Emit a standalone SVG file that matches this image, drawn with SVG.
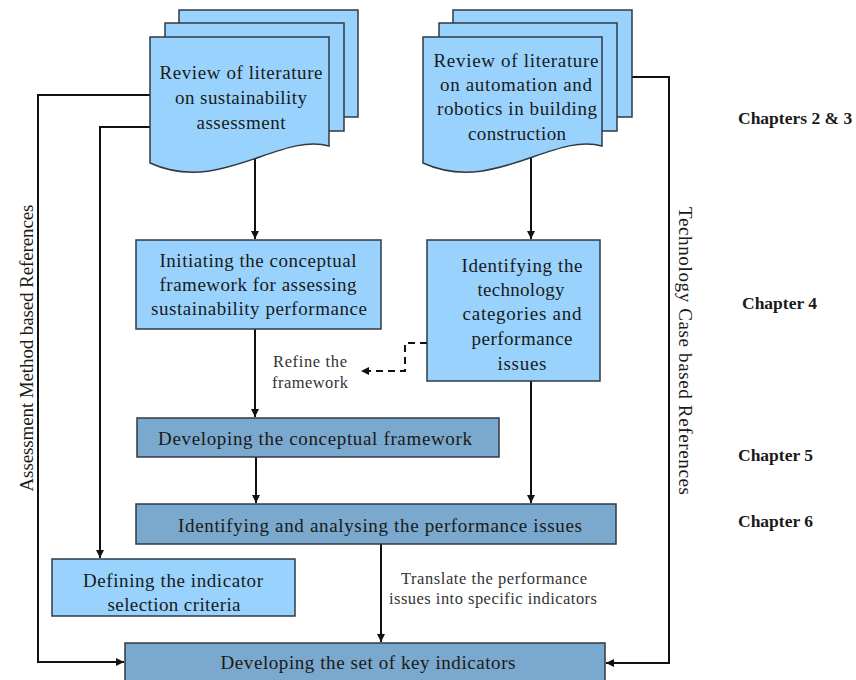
<svg xmlns="http://www.w3.org/2000/svg" width="856" height="680" viewBox="0 0 856 680">
<defs>
<style>
.lb{fill:#99d3fd;stroke:#2f3a44;stroke-width:1.5}
.db{fill:#7ba8cd;stroke:#2f3a44;stroke-width:1.5}
.t{font-family:"Liberation Serif","Times New Roman",serif;font-size:19px;fill:#1a1a1a;text-anchor:middle;dominant-baseline:central}
.s{font-size:16.5px;fill:#333}
.ch{font-family:"Liberation Serif","Times New Roman",serif;font-size:17.5px;font-weight:bold;fill:#1a1a1a;dominant-baseline:central}
.c{fill:none;stroke:#111;stroke-width:2}
.d{stroke-dasharray:7,5}
</style>
<marker id="ah" viewBox="0 0 10 10" refX="10" refY="5" markerWidth="8" markerHeight="8" markerUnits="userSpaceOnUse" orient="auto">
<path d="M0,0 L10,5 L0,10 z" fill="#111"/>
</marker>
</defs>
<rect width="856" height="680" fill="#fff"/>

<g id="connectors">
<path class="c" d="M255,156 V239" marker-end="url(#ah)"/>
<path class="c" d="M531,156 V239" marker-end="url(#ah)"/>
<path class="c" d="M150,95 H38 V662 H124" marker-end="url(#ah)"/>
<path class="c" d="M150,127 H100 V558" marker-end="url(#ah)"/>
<path class="c" d="M632,77 H669 V663 H606" marker-end="url(#ah)"/>
<path class="c" d="M255,329 V417" marker-end="url(#ah)"/>
<path class="c" d="M256,457 V503" marker-end="url(#ah)"/>
<path class="c" d="M531,381 V503" marker-end="url(#ah)"/>
<path class="c" d="M381,544 V642" marker-end="url(#ah)"/>
<path class="c d" d="M427,343 H405 V371 H361" marker-end="url(#ah)"/>
</g>

<g id="doc-sustainability">
<rect class="lb" x="179" y="10" width="179" height="107"/>
<rect class="lb" x="165" y="23" width="179" height="108"/>
<path class="lb" d="M150,37 H329 V146 C280,132 220,195 150,163 Z"/>
<text class="t" x="241" y="72" textLength="163" lengthAdjust="spacing">Review of literature</text>
<text class="t" x="241" y="97" textLength="132" lengthAdjust="spacing">on sustainability</text>
<text class="t" x="241" y="122" textLength="89" lengthAdjust="spacing">assessment</text>
</g>

<g id="doc-automation">
<rect class="lb" x="453" y="10" width="179" height="107"/>
<rect class="lb" x="439" y="23" width="178" height="108"/>
<path class="lb" d="M423,37 H602 V146 C553,132 493,195 423,163 Z"/>
<text class="t" x="516" y="60" textLength="165" lengthAdjust="spacing">Review of literature</text>
<text class="t" x="516" y="84" textLength="152" lengthAdjust="spacing">on automation and</text>
<text class="t" x="517" y="108" textLength="160" lengthAdjust="spacing">robotics in building</text>
<text class="t" x="517" y="133" textLength="98" lengthAdjust="spacing">construction</text>
</g>

<g id="initiating">
<rect class="lb" x="136" y="240" width="245" height="89"/>
<text class="t" x="258" y="260" textLength="197" lengthAdjust="spacing">Initiating the conceptual</text>
<text class="t" x="258" y="284" textLength="197" lengthAdjust="spacing">framework for assessing</text>
<text class="t" x="259" y="308" textLength="216" lengthAdjust="spacing">sustainability performance</text>
</g>

<g id="identifying-tech">
<rect class="lb" x="427" y="240" width="173" height="141"/>
<text class="t" x="522" y="265" textLength="121" lengthAdjust="spacing">Identifying the</text>
<text class="t" x="521" y="289" textLength="87" lengthAdjust="spacing">technology</text>
<text class="t" x="522" y="313" textLength="119" lengthAdjust="spacing">categories and</text>
<text class="t" x="522" y="338" textLength="101" lengthAdjust="spacing">performance</text>
<text class="t" x="522" y="363" textLength="49" lengthAdjust="spacing">issues</text>
</g>

<g id="refine-label">
<text class="t s" x="310" y="361" textLength="74" lengthAdjust="spacing">Refine the</text>
<text class="t s" x="310" y="382" textLength="76" lengthAdjust="spacing">framework</text>
</g>

<g id="developing-framework">
<rect class="db" x="137" y="418" width="362" height="39"/>
<text class="t" x="315" y="438" textLength="314" lengthAdjust="spacing">Developing the conceptual framework</text>
</g>

<g id="analysing">
<rect class="db" x="136" y="504" width="480" height="40"/>
<text class="t" x="380" y="525" textLength="404" lengthAdjust="spacing">Identifying and analysing the performance issues</text>
</g>

<g id="defining">
<rect class="lb" x="52" y="559" width="243" height="57"/>
<text class="t" x="173" y="580" textLength="180" lengthAdjust="spacing">Defining the indicator</text>
<text class="t" x="174" y="604" textLength="133" lengthAdjust="spacing">selection criteria</text>
</g>

<g id="translate-label">
<text class="t s" x="494" y="578" textLength="186" lengthAdjust="spacing">Translate the performance</text>
<text class="t s" x="493" y="598" textLength="208" lengthAdjust="spacing">issues into specific indicators</text>
</g>

<g id="key-indicators">
<rect class="db" x="125" y="643" width="480" height="50"/>
<text class="t" x="368" y="662" textLength="295" lengthAdjust="spacing">Developing the set of key indicators</text>
</g>

<g id="side-labels">
<text class="t" x="0" y="0" transform="translate(26,348) rotate(-90)" textLength="287" lengthAdjust="spacing">Assessment  Method based References</text>
<text class="t" x="0" y="0" transform="translate(685,351) rotate(90)" textLength="288" lengthAdjust="spacing">Technology  Case based References</text>
</g>

<g id="chapters">
<text class="ch" x="738" y="118">Chapters 2 &amp; 3</text>
<text class="ch" x="742" y="303">Chapter 4</text>
<text class="ch" x="738" y="455">Chapter 5</text>
<text class="ch" x="738" y="521">Chapter 6</text>
</g>
</svg>
